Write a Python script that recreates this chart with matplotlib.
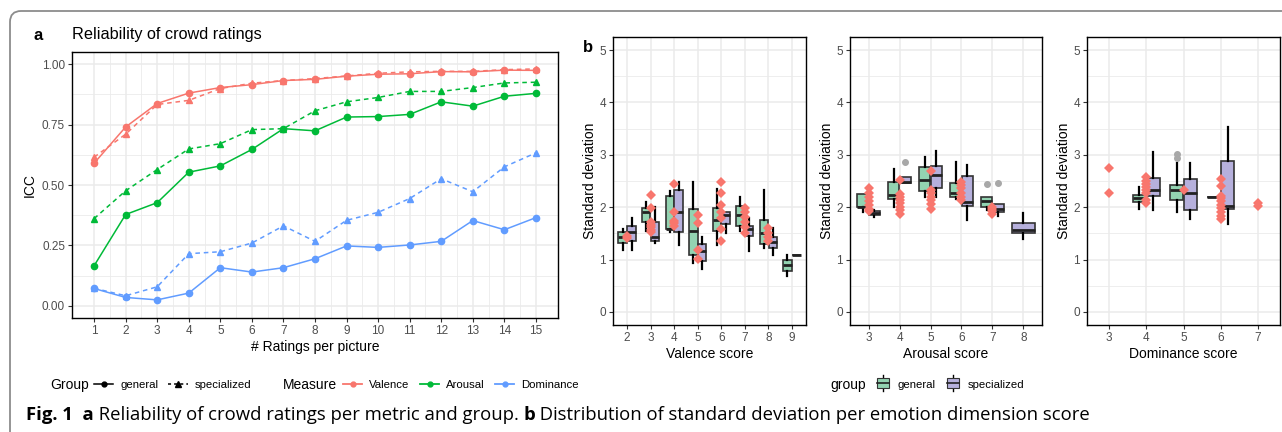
import numpy as np
import matplotlib
matplotlib.use("Agg")
import matplotlib.pyplot as plt
from matplotlib.lines import Line2D
from matplotlib.patches import Patch, Rectangle, FancyBboxPatch
from matplotlib.legend_handler import HandlerBase
from matplotlib.transforms import IdentityTransform

plt.rcParams['font.family'] = ['Liberation Sans', 'DejaVu Sans']

# panel a: ICC per number of ratings
ratings = [1, 2, 3, 4, 5, 6, 7, 8, 9, 10, 11, 12, 13, 14, 15]
valence_general = [0.590, 0.740, 0.837, 0.880, 0.903, 0.915, 0.932, 0.937, 0.950, 0.958, 0.960, 0.969, 0.968, 0.975, 0.974]
valence_specialized = [0.615, 0.710, 0.833, 0.850, 0.899, 0.921, 0.932, 0.940, 0.951, 0.962, 0.968, 0.970, 0.970, 0.977, 0.980]
arousal_general = [0.166, 0.378, 0.427, 0.553, 0.579, 0.647, 0.733, 0.724, 0.781, 0.783, 0.792, 0.844, 0.826, 0.867, 0.879]
arousal_specialized = [0.361, 0.476, 0.564, 0.649, 0.671, 0.729, 0.733, 0.807, 0.844, 0.862, 0.887, 0.887, 0.903, 0.922, 0.925]
dominance_general = [0.072, 0.035, 0.025, 0.053, 0.158, 0.140, 0.158, 0.195, 0.248, 0.242, 0.252, 0.267, 0.353, 0.315, 0.365]
dominance_specialized = [0.073, 0.042, 0.079, 0.216, 0.224, 0.260, 0.331, 0.267, 0.354, 0.387, 0.444, 0.526, 0.472, 0.575, 0.633]

# panel b: box stats (whislo, q1, med, q3, whishi) per score, None = no box
valence_scores = [2, 3, 4, 5, 6, 7, 8, 9]
valence_gen = [(1.19, 1.32, 1.44, 1.52, 1.58), (1.55, 1.71, 1.91, 1.98, 2.10), (1.52, 1.59, 1.59, 2.22, 2.31),
               (0.93, 1.09, 1.55, 1.97, 2.48), (1.28, 1.55, 1.76, 1.98, 2.34), (1.54, 1.65, 1.85, 2.03, 2.20),
               (1.23, 1.30, 1.51, 1.76, 2.32), (0.68, 0.78, 0.90, 1.00, 1.08)]
valence_spec = [(1.19, 1.35, 1.52, 1.65, 1.79), (1.32, 1.36, 1.44, 1.72, 2.01), (1.28, 1.52, 1.90, 2.32, 2.48),
                (0.82, 0.97, 1.16, 1.30, 1.43), (1.51, 1.68, 1.85, 1.90, 1.90), (1.16, 1.45, 1.58, 1.65, 1.80),
                (1.09, 1.22, 1.34, 1.44, 1.60), (1.09, 1.09, 1.09, 1.09, 1.09)]
valence_gen_out = [[], [], [], [], [], [], [], []]
valence_spec_out = [[], [], [], [], [], [], [], []]
valence_points = [[1.42, 1.45], [2.23, 1.99, 1.72, 1.66, 1.62, 1.57, 1.53], [2.44, 1.90, 1.73, 1.70, 1.65],
                  [1.86, 1.70, 1.19, 1.01], [2.49, 2.28, 2.05, 1.90, 1.80, 1.58, 1.36],
                  [1.99, 1.90, 1.81, 1.72, 1.63, 1.51], [1.60, 1.51, 1.43, 1.36], []]

arousal_scores = [3, 4, 5, 6, 7, 8]
arousal_gen = [(1.90, 2.01, 2.01, 2.26, 2.26), (2.01, 2.16, 2.24, 2.48, 2.73), (2.20, 2.30, 2.51, 2.76, 2.96),
               (2.16, 2.20, 2.28, 2.47, 2.86), (1.94, 2.01, 2.12, 2.19, 2.19), None]
arousal_spec = [(1.81, 1.86, 1.89, 1.93, 1.95), (2.47, 2.47, 2.48, 2.57, 2.57), (2.20, 2.36, 2.61, 2.79, 3.07),
                (1.75, 2.03, 2.10, 2.60, 2.80), (1.84, 1.90, 1.96, 2.07, 2.07), (1.39, 1.51, 1.57, 1.70, 1.89)]
arousal_gen_out = [[], [], [], [], [2.45], []]
arousal_spec_out = [[], [2.87], [], [], [2.47], []]
arousal_points = [[2.36, 2.27, 2.19, 2.11, 2.05, 1.97, 1.92], [2.52, 2.25, 2.19, 2.13, 2.08, 2.01, 1.95, 1.87],
                  [2.70, 2.33, 2.27, 2.20, 2.13, 2.06, 1.97], [2.49, 2.43, 2.36, 2.28, 2.20, 2.13],
                  [2.01, 1.96, 1.92, 1.87], []]

dominance_scores = [3, 4, 5, 6, 7]
dominance_gen = [None, (1.96, 2.10, 2.17, 2.24, 2.38), (1.90, 2.13, 2.33, 2.43, 2.84),
                 (2.19, 2.19, 2.19, 2.19, 2.19), None]
dominance_spec = [None, (1.95, 2.21, 2.33, 2.55, 3.05), (1.77, 1.95, 2.28, 2.53, 2.84),
                  (1.68, 1.97, 2.03, 2.88, 3.54), None]
dominance_gen_out = [[], [], [3.02, 2.94], [], []]
dominance_spec_out = [[], [], [], [], []]
dominance_points = [[2.74, 2.28], [2.58, 2.50, 2.45, 2.38, 2.33, 2.27, 2.13, 2.08], [2.33],
                    [2.54, 2.40, 2.22, 2.17, 2.11, 2.05, 1.98, 1.91, 1.84, 1.78], [2.08, 2.03]]

RED, GREEN, BLUE = '#F8766D', '#00BA38', '#619CFF'
FILL_GEN, FILL_SPEC = '#93D3B1', '#B6B0DC'
GRID = '#EBEBEB'

W, H = 1282, 432
fig = plt.figure(figsize=(W / 100, H / 100), dpi=100)


def px_axes(x0, y0, x1, y1):
    return fig.add_axes([x0 / W, 1 - y1 / H, (x1 - x0) / W, (y1 - y0) / H])


def style(ax):
    ax.set_axisbelow(True)
    ax.grid(which='major', color=GRID, lw=1.1)
    ax.grid(which='minor', color=GRID, lw=0.6)
    for s in ax.spines.values():
        s.set_color('black')
        s.set_linewidth(1.0)
    ax.tick_params(which='major', length=3, width=0.8, color='#333333', labelsize=8.5,
                   labelcolor='#4D4D4D', pad=2)
    ax.tick_params(which='minor', length=0)


# ---- panel a ----
ax = px_axes(72, 52, 558, 318)
series = [(valence_general, valence_specialized, RED),
          (arousal_general, arousal_specialized, GREEN),
          (dominance_general, dominance_specialized, BLUE)]
for gen, spec, col in series:
    ax.plot(ratings, gen, color=col, lw=1.1, marker='o', ms=4.5)
    ax.plot(ratings, spec, color=col, lw=1.1, ls=(0, (3, 2.5)), marker='^', ms=5)
ax.set_xlim(0.3, 15.7)
ax.set_ylim(-0.05, 1.05)
ax.set_xticks(ratings)
ax.set_xticks(np.arange(1.5, 15, 1), minor=True)
ax.set_yticks([0, 0.25, 0.5, 0.75, 1.0])
ax.set_yticklabels(['0.00', '0.25', '0.50', '0.75', '1.00'])
ax.set_yticks([0.125, 0.375, 0.625, 0.875], minor=True)
style(ax)
ax.set_xlabel('# Ratings per picture', fontsize=10, labelpad=2)
ax.set_ylabel('ICC', fontsize=10, labelpad=4)
fig.text(38 / W, 1 - 35 / H, 'a', fontsize=12, fontweight='bold', ha='center', va='center')
fig.text(72 / W, 1 - 35 / H, 'Reliability of crowd ratings', fontsize=11.7, va='center')


# ---- panel b ----
def draw_boxes(ax, scores, gen, spec, gen_out, spec_out, points, xlabel):
    for i in range(len(scores)):
        both = gen[i] is not None and spec[i] is not None
        for stats, outs, off, fc in [(gen[i], gen_out[i], -0.1875, FILL_GEN),
                                     (spec[i], spec_out[i], 0.1875, FILL_SPEC)]:
            if stats is None:
                continue
            pos = i + (off if both else 0)
            width = 0.36 if both else 0.72
            lo, q1, med, q3, hi = stats
            ax.bxp([dict(whislo=lo, q1=q1, med=med, q3=q3, whishi=hi, fliers=outs)],
                   positions=[pos], widths=[width], patch_artist=True, showcaps=False,
                   manage_ticks=False,
                   boxprops=dict(facecolor=fc, edgecolor='#333333', lw=1.2),
                   whiskerprops=dict(color='black', lw=1.6),
                   medianprops=dict(color='#222222', lw=2.0),
                   flierprops=dict(marker='o', markerfacecolor='#A8A8A8',
                                   markeredgecolor='#A8A8A8', ms=4))
        if points[i]:
            ax.plot(np.full(len(points[i]), i), points[i], 'D', color=RED, ms=4.6, mew=0, zorder=5)
    n = len(scores)
    ax.set_xlim(-0.6, n - 1 + 0.6)
    ax.set_ylim(-0.25, 5.25)
    ax.set_xticks(range(n))
    ax.set_xticklabels([str(s) for s in scores])
    ax.set_yticks(range(6))
    ax.set_yticks([0.5, 1.5, 2.5, 3.5, 4.5], minor=True)
    style(ax)
    ax.set_xlabel(xlabel, fontsize=10, labelpad=2)
    ax.set_ylabel('Standard deviation', fontsize=10, labelpad=2)


b1 = px_axes(613, 37, 806, 325)
draw_boxes(b1, valence_scores, valence_gen, valence_spec, valence_gen_out, valence_spec_out,
           valence_points, 'Valence score')
b2 = px_axes(850, 37, 1042, 325)
draw_boxes(b2, arousal_scores, arousal_gen, arousal_spec, arousal_gen_out, arousal_spec_out,
           arousal_points, 'Arousal score')
b3 = px_axes(1087, 37, 1280, 325)
draw_boxes(b3, dominance_scores, dominance_gen, dominance_spec, dominance_gen_out, dominance_spec_out,
           dominance_points, 'Dominance score')
fig.text(588 / W, 1 - 47 / H, 'b', fontsize=12, fontweight='bold', ha='center', va='center')


# ---- legends ----
class BoxKey(HandlerBase):
    def create_artists(self, legend, orig, xd, yd, w, h, fontsize, trans):
        cx = xd + w / 2
        whisk = Line2D([cx, cx], [yd - 0.35 * h, yd + 1.35 * h], color='black', lw=1.0, transform=trans)
        box = Rectangle((xd + 0.1 * w, yd), 0.8 * w, h, facecolor=orig.get_facecolor(),
                        edgecolor='#333333', lw=0.8, transform=trans)
        med = Line2D([xd + 0.1 * w, xd + 0.9 * w], [yd + h / 2] * 2, color='#222222', lw=1.2, transform=trans)
        return [whisk, box, med]


ly = 1 - 385 / H
leg_kw = dict(frameon=False, loc='center left', fontsize=8.2, borderpad=0, borderaxespad=0,
              handletextpad=0.6, columnspacing=0.9)

fig.text(50 / W, ly, 'Group', fontsize=10, va='center')
group_handles = [Line2D([], [], color='black', lw=1.1, marker='o', ms=3.5),
                 Line2D([], [], color='black', lw=1.1, ls=(0, (2, 2)), marker='^', ms=4)]
fig.legend(group_handles, ['general', 'specialized'], ncol=2, handlelength=1.7,
           bbox_to_anchor=(94 / W, ly), **leg_kw)

fig.text(283 / W, ly, 'Measure', fontsize=10, va='center')
measure_handles = [Line2D([], [], color=c, lw=1.3, marker='o', ms=3.5) for c in (RED, GREEN, BLUE)]
fig.legend(measure_handles, ['Valence', 'Arousal', 'Dominance'], ncol=3, handlelength=1.7,
           bbox_to_anchor=(343 / W, ly), **leg_kw)

fig.text(830 / W, ly, 'group', fontsize=10, va='center')
box_handles = [Patch(facecolor=FILL_GEN), Patch(facecolor=FILL_SPEC)]
fig.legend(box_handles, ['general', 'specialized'], ncol=2, handlelength=1.3, handleheight=0.9,
           handler_map={Patch: BoxKey()}, bbox_to_anchor=(876 / W, ly), **leg_kw)

# ---- caption ----
renderer = fig.canvas.get_renderer()
cap_y = 1 - 415 / H
x = 26 / W
pieces = [('Fig. 1', 'bold'), ('  a', 'bold'), (' Reliability of crowd ratings per metric and group. ', 'normal'),
          ('b', 'bold'), (' Distribution of standard deviation per emotion dimension score', 'normal')]
for txt, wt in pieces:
    t = fig.text(x, cap_y, txt, fontsize=13.3, fontweight=wt, va='center',
                 family=['Open Sans', 'DejaVu Sans'])
    x = t.get_window_extent(renderer=renderer).x1 / W

# ---- frame ----
frame = FancyBboxPatch((10, -30), W + 40, H - 11 + 30, boxstyle='round,pad=0,rounding_size=11',
                       transform=IdentityTransform(), fill=False, edgecolor='#8C8C8C', lw=1.3)
fig.add_artist(frame)

fig.savefig('out.png', dpi=100)
